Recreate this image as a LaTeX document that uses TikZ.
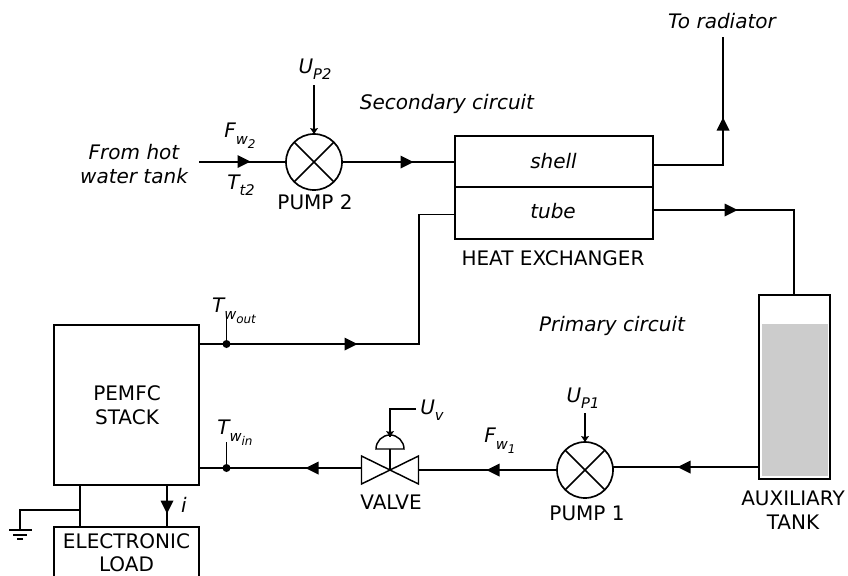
\documentclass[tikz,border=0pt]{standalone}
\usepackage{fontspec}
\setmainfont{DejaVu Sans}
\def\px{0.75pt}
\newcommand{\fsz}[1]{\fontsize{#1}{#1}\selectfont}
\newcommand{\sbb}[2][-0.32em]{\raisebox{#1}{\fsz{11}#2}}
\newcommand{\sbw}[1]{\raisebox{-0.32em}{\fsz{11}#1}}
\newcommand{\sbc}[1]{\raisebox{-0.55em}{\fsz{9}#1}}
\tikzset{
  x=0.75pt,y=-0.75pt,
  box/.style={draw,line width=1.25pt,inner sep=0pt,outer sep=0pt,rectangle},
  pumpc/.style={draw,line width=1.25pt,circle,inner sep=0pt,outer sep=0pt,minimum size=56*\px},
  pipe/.style={line width=1pt,line join=miter},
  sig/.style={line width=0.85pt},
  lab/.style={inner sep=0pt,font=\fsz{15}},
  ilab/.style={inner sep=0pt,font=\fsz{15}\itshape},
  flowtip/.pic={\fill (-6.5,-6.5) -- (6.5,0) -- (-6.5,6.5) -- cycle;},
  sigtip/.pic={\fill (-6,-4) -- (0,0) -- (-6,4) -- (-5,0) -- cycle;},
  junction/.style={circle,fill=black,inner sep=0pt,minimum size=8*\px}
}
\begin{document}
\begin{tikzpicture}
\useasboundingbox (0,0) rectangle (848,575);
\clip (0,0) rectangle (848,575);

% tank liquid
\fill[black!20] (761.5,324) rectangle (827.5,476);

% main blocks
\node[box,minimum width=145*\px,minimum height=160*\px] (stack) at (126.5,405) {};
\node[box,minimum width=145*\px,minimum height=70*\px] (eload) at (126.5,562) {};
\node[box,minimum width=198*\px,minimum height=51*\px] (shell) at (554,161.5) {};
\node[box,minimum width=198*\px,minimum height=52*\px] (tube) at (554,213) {};
\node[box,minimum width=71*\px,minimum height=184*\px] (tank) at (794.5,387) {};

% pumps
\node[pumpc] (pumpA) at (314,162) {};
\draw[line width=1.25pt] (pumpA.45) -- (pumpA.225) (pumpA.135) -- (pumpA.315);
\node[pumpc] (pumpB) at (585,470) {};
\draw[line width=1.25pt] (pumpB.45) -- (pumpB.225) (pumpB.135) -- (pumpB.315);

% valve
\coordinate (vc) at (390,470);
\coordinate (vl) at (361.5,470);
\coordinate (vr) at (418.5,470);
\coordinate (vtop) at (390,449);
\draw[line width=1.1pt,line join=miter] (361.5,456) -- (418.5,484) -- (418.5,456) -- (361.5,484) -- cycle;
\draw[line width=1.1pt] (376,449) arc[start angle=180,end angle=360,radius=14] -- cycle;
\draw[line width=1.1pt] (vtop) -- (vc);

% free ends and bends
\coordinate (hotin) at (199,162);
\coordinate (torad) at (723,37);
\coordinate (outj) at (226.5,344);
\coordinate (inj) at (226.5,468);
\coordinate (uP2) at (314,85);
\coordinate (uP1) at (585,413);
\coordinate (uvs) at (416,409);
\coordinate (gnd) at (20,529);

% pipes
\draw[pipe] (hotin) -- (pumpA.west);
\draw[pipe] (pumpA.east) -- (pumpA.east -| shell.west);
\draw[pipe] (shell.east |- 0,165) -- (723,165) -- (torad);
\draw[pipe] (tube.east |- 0,210) -- (794,210) -- (794,295);
\draw[pipe] (199,344) -- (419,344) -- (419,214.5) -- (453.5,214.5);
\draw[pipe] (199,468) -- (361.5,468);
\draw[pipe] (vr) -- (pumpB.west);
\draw[pipe] (613,467) -- (759,467);

% flow arrowheads
\pic at (244,161.5) {flowtip};
\pic at (407,162) {flowtip};
\pic[rotate=90] at (723,124) {flowtip};
\pic at (731,210) {flowtip};
\pic at (351,344) {flowtip};
\pic[rotate=180] at (312,468) {flowtip};
\pic[rotate=180] at (493,470) {flowtip};
\pic[rotate=180] at (684,467) {flowtip};
\pic[rotate=-90] at (167,507) {flowtip};

% signals
\draw[sig] (uP2) -- (pumpA.north);
\pic[rotate=-90] at (pumpA.north) {sigtip};
\draw[sig] (uP1) -- (pumpB.north);
\pic[rotate=-90] at (pumpB.north) {sigtip};
\draw[sig] (uvs) -- (390,409) -- (390,437);
\pic[rotate=-90] at (390,437) {sigtip};

% sensors
\node[junction] (jo) at (outj) {};
\draw[sig] (jo) -- (226.5,318);
\node[junction] (ji) at (inj) {};
\draw[sig] (ji) -- (226.5,442);

% load and ground
\draw[pipe] (80,485) -- (80,527);
\draw[pipe] (167,485) -- (167,527);
\draw[pipe] (80,510) -- (20,510) -- (gnd);
\draw[pipe] (9,530) -- (32,530);
\draw[pipe] (13,535) -- (27,535);
\draw[pipe] (17,539) -- (23,539);

% labels
\node[ilab] (t1) at (722,21) {To radiator};
\node[ilab] (t2) at (447,104) {Secondary circuit};
\node[ilab] (t3) at (612,326) {Primary circuit};
\node[ilab,align=center] (t4) at (134,164) {From hot\\[3pt]water tank};
\node[ilab] (t5) at (553.5,161) {shell};
\node[ilab] (t6) at (553,211) {tube};
\node[lab] (t7) at (553,258) {HEAT EXCHANGER};
\node[lab] (t8) at (315,202) {PUMP 2};
\node[lab] (t9) at (587,513) {PUMP 1};
\node[lab] (t10) at (391,502) {VALVE};
\node[lab,align=center] (t11) at (793,510) {AUXILIARY\\[3pt]TANK};
\node[lab,align=center] (t12) at (127,405.5) {PEMFC\\[3pt]STACK};
\node[lab,align=center] (t13) at (126.5,552.5) {ELECTRONIC\\[2.5pt]LOAD};
\node[ilab] (t14) at (184,505) {i};
\node[ilab] (t15) at (315,69) {U\sbb{P2}};
\node[ilab] (t16) at (583,398) {U\sbb{P1}};
\node[ilab] (t17) at (432,410) {U\sbb{v}};
\node[ilab] (t18) at (240,136) {F\sbw{w}\sbc{2}};
\node[ilab] (t19) at (500,441) {F\sbw{w}\sbc{1}};
\node[ilab] (t20) at (241,185) {T\sbb{t2}};
\node[ilab] (t21) at (234,311) {T\sbw{w}\sbc{out}};
\node[ilab] (t22) at (235,433) {T\sbw{w}\sbc{in}};
\end{tikzpicture}
\end{document}
